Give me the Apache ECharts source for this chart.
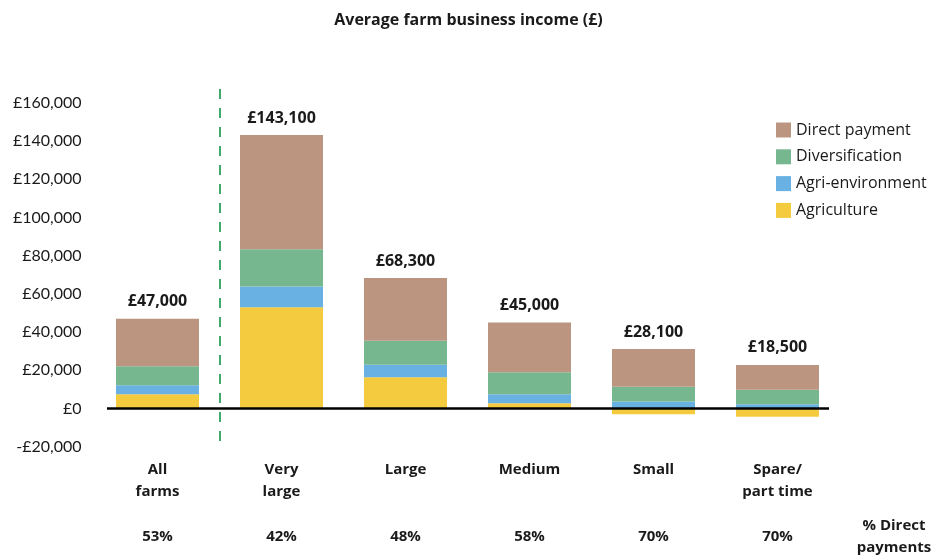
<!DOCTYPE html>
<html>
<head>
<meta charset="utf-8">
<script src="https://cdn.jsdelivr.net/npm/echarts@6/dist/echarts.min.js"></script>
<style>
  html, body { margin: 0; padding: 0; background: #fff; }
  #chart { width: 937px; height: 559px; }
</style>
</head>
<body>
<div id="chart"></div>
<script>
// Farm types along the x axis
const categories = ['All\nfarms', 'Very\nlarge', 'Large', 'Medium', 'Small', 'Spare/\npart time'];

// Income components (£) per farm type
const agriculture     = [7400, 53000, 16400, 2800, -3000, -4300];
const agriEnvironment = [4700, 10800, 6500, 4600, 3700, 2200];
const diversification = [10000, 19500, 12600, 11500, 7700, 7600];
const directPayment   = [24900, 59800, 32800, 26100, 19700, 13000];

// Share of income from direct payments
const directShare = ['53%', '42%', '48%', '58%', '70%', '70%'];

// Y axis ticks
const yMin = -20000, yMax = 160000, yStep = 20000;

const FONT = '"Open Sans", "Noto Sans", sans-serif';
const AXIS_FONT = 'Lato, "Noto Sans", sans-serif';
const TEXT = '#1a1a1a';

const fmtPounds = v => (v < 0 ? '-£' : '£') + Math.abs(v).toLocaleString('en-GB');
const netTotal = i => agriculture[i] + agriEnvironment[i] + diversification[i] + directPayment[i];

const chart = echarts.init(document.getElementById('chart'), null, { renderer: 'canvas' });

const barBase = { type: 'bar', stack: 'income', barWidth: 83, xAxisIndex: 0 };
const boldLabel = { fontFamily: FONT, fontSize: 15, fontWeight: 'bold', color: TEXT, lineHeight: 22 };

chart.setOption({
  animation: false,
  backgroundColor: '#ffffff',
  textStyle: { fontFamily: FONT },
  title: {
    text: 'Average farm business income (£)',
    left: 'center',
    top: 7,
    textStyle: { fontFamily: FONT, fontSize: 16, fontWeight: 'bold', color: TEXT }
  },
  legend: {
    orient: 'vertical',
    left: 776,
    top: 122,
    padding: 0,
    itemWidth: 15,
    itemHeight: 15,
    itemGap: 10.8,
    icon: 'rect',
    data: ['Direct payment', 'Diversification', 'Agri-environment', 'Agriculture'],
    textStyle: { fontFamily: FONT, fontSize: 16, color: TEXT }
  },
  grid: { left: 95.5, right: 97.5, top: 102.7, bottom: 112.3, containLabel: false },
  xAxis: [
    {
      type: 'category',
      data: categories,
      position: 'bottom',
      axisLine: { show: false },
      axisTick: { show: false },
      axisLabel: Object.assign({ margin: 12, interval: 0 }, boldLabel)
    },
    {
      type: 'category',
      data: directShare,
      position: 'bottom',
      offset: 70,
      axisLine: { show: false },
      axisTick: { show: false },
      axisLabel: Object.assign({ margin: 9, interval: 0 }, boldLabel)
    }
  ],
  yAxis: {
    type: 'value',
    min: yMin,
    max: yMax,
    interval: yStep,
    splitLine: { show: false },
    axisLine: { show: false },
    axisTick: { show: false },
    axisLabel: {
      margin: 14,
      formatter: fmtPounds,
      fontFamily: AXIS_FONT, fontSize: 16, color: TEXT
    }
  },
  series: [
    Object.assign({}, barBase, { name: 'Agriculture', data: agriculture, itemStyle: { color: '#F4CA3E' } }),
    Object.assign({}, barBase, { name: 'Agri-environment', data: agriEnvironment, itemStyle: { color: '#68B1E2' } }),
    Object.assign({}, barBase, { name: 'Diversification', data: diversification, itemStyle: { color: '#76B790' } }),
    Object.assign({}, barBase, {
      name: 'Direct payment',
      data: directPayment,
      itemStyle: { color: '#BB9580' },
      label: {
        show: true,
        position: 'top',
        distance: 9,
        formatter: p => fmtPounds(netTotal(p.dataIndex)),
        fontFamily: FONT, fontSize: 16, fontWeight: 'bold', color: TEXT
      }
    })
  ]
});

// Zero baseline and the divider between the overall average and the size groups
const zeroY = chart.convertToPixel({ yAxisIndex: 0 }, 0);
const x0 = chart.convertToPixel({ xAxisIndex: 0 }, 0);
const x1 = chart.convertToPixel({ xAxisIndex: 0 }, 1);
const dividerX = Math.round((x0 + x1) / 2);

chart.setOption({
  graphic: [
    {
      type: 'line',
      z: 100,
      shape: { x1: 107, y1: zeroY, x2: 829, y2: zeroY },
      style: { stroke: '#000', lineWidth: 2.5 }
    },
    {
      type: 'line',
      z: 100,
      shape: { x1: dividerX, y1: 89, x2: dividerX, y2: 445 },
      style: { stroke: '#3FAA6C', lineWidth: 2, lineDash: [10, 9] }
    },
    {
      type: 'text',
      z: 100,
      x: 894,
      y: 537,
      style: {
        text: '% Direct\npayments',
        align: 'center',
        verticalAlign: 'middle',
        fontFamily: FONT, fontSize: 15, fontWeight: 'bold', fill: TEXT, lineHeight: 22
      }
    }
  ]
});
</script>
</body>
</html>
